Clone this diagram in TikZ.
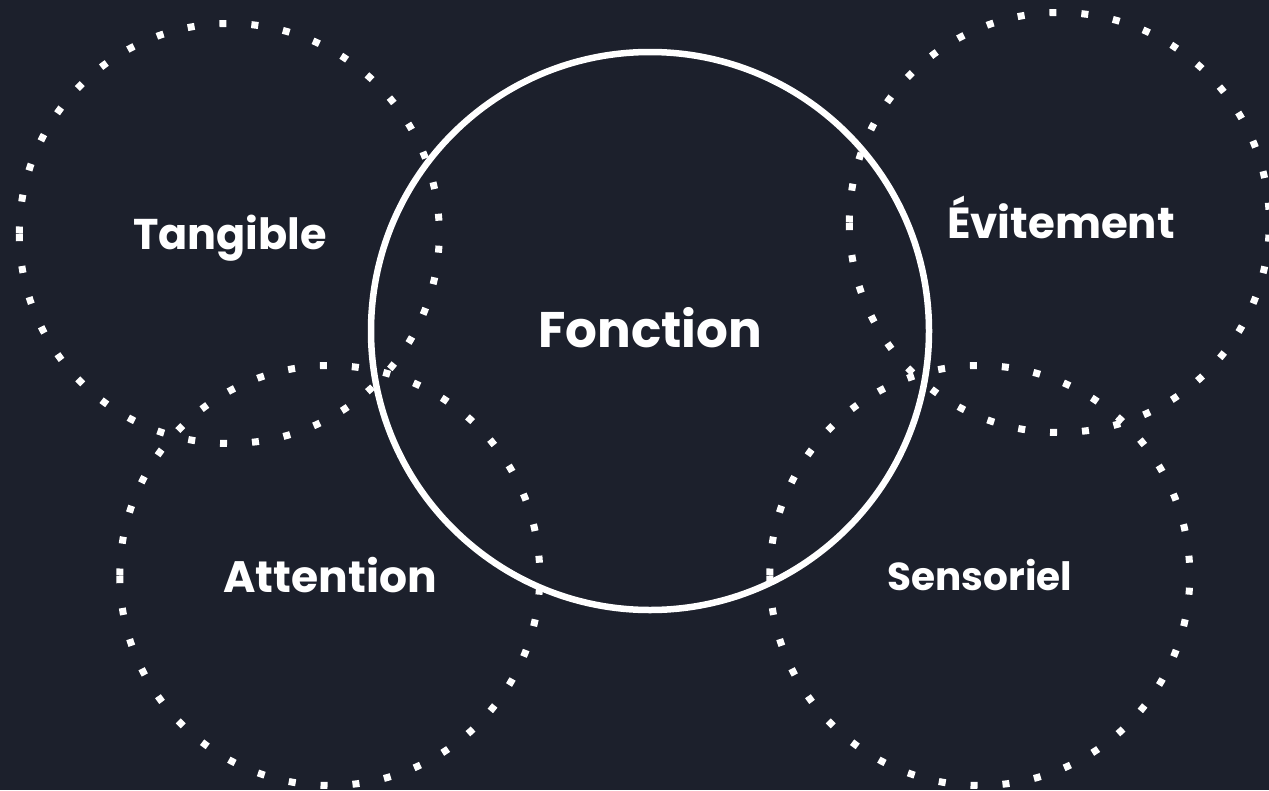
\documentclass[tikz,border=0pt]{standalone}
\usepackage{fontspec}
\setmainfont{Poppins}
\definecolor{bg}{RGB}{28,32,44}
\tikzset{
  dotring/.style={draw=white, line width=7pt, dash pattern=on 7pt off 25pt},
  ring/.style={circle, inner sep=0pt, minimum size=420pt},
  mainring/.style={circle, draw=white, line width=6.5pt, inner sep=0pt, minimum size=558pt},
  lbl/.style={text=white, font=\bfseries, anchor=base, inner sep=0pt}
}
\begin{document}
\begin{tikzpicture}[x=1pt,y=-1pt]
\useasboundingbox (0,0) rectangle (1269,790);
\clip (0,0) rectangle (1269,790);
\fill[bg] (0,0) rectangle (1269,790);
% dotted rings
\node[ring] (tang) at (229.5,233.5) {};
\node[ring] (evit) at (1059.5,222.5) {};
\node[ring] (atte) at (330,575.5) {};
\node[ring] (sens) at (980,575.5) {};
\foreach \r in {tang,evit,atte,sens}{
  \draw[dotring] (\r.west) arc[start angle=180, end angle=-180, radius=210pt];
}
% main ring
\node[mainring] (fonc) at (650,331) {};
% labels
\node[lbl, font=\bfseries\fontsize{43}{50}\selectfont] (tTang) at (230,249) {Tangible};
\node[lbl, font=\bfseries\fontsize{50}{56}\selectfont] (tFonc) at (650,347) {Fonction};
\node[lbl, font=\bfseries\fontsize{43.5}{50}\selectfont] (tEvit) at (1061,238) {Évitement};
\node[lbl, font=\bfseries\fontsize{44}{50}\selectfont] (tAtte) at (330,592) {Attention};
\node[lbl, font=\bfseries\fontsize{39}{46}\selectfont] (tSens) at (980,590) {Sensoriel};
\end{tikzpicture}
\end{document}
